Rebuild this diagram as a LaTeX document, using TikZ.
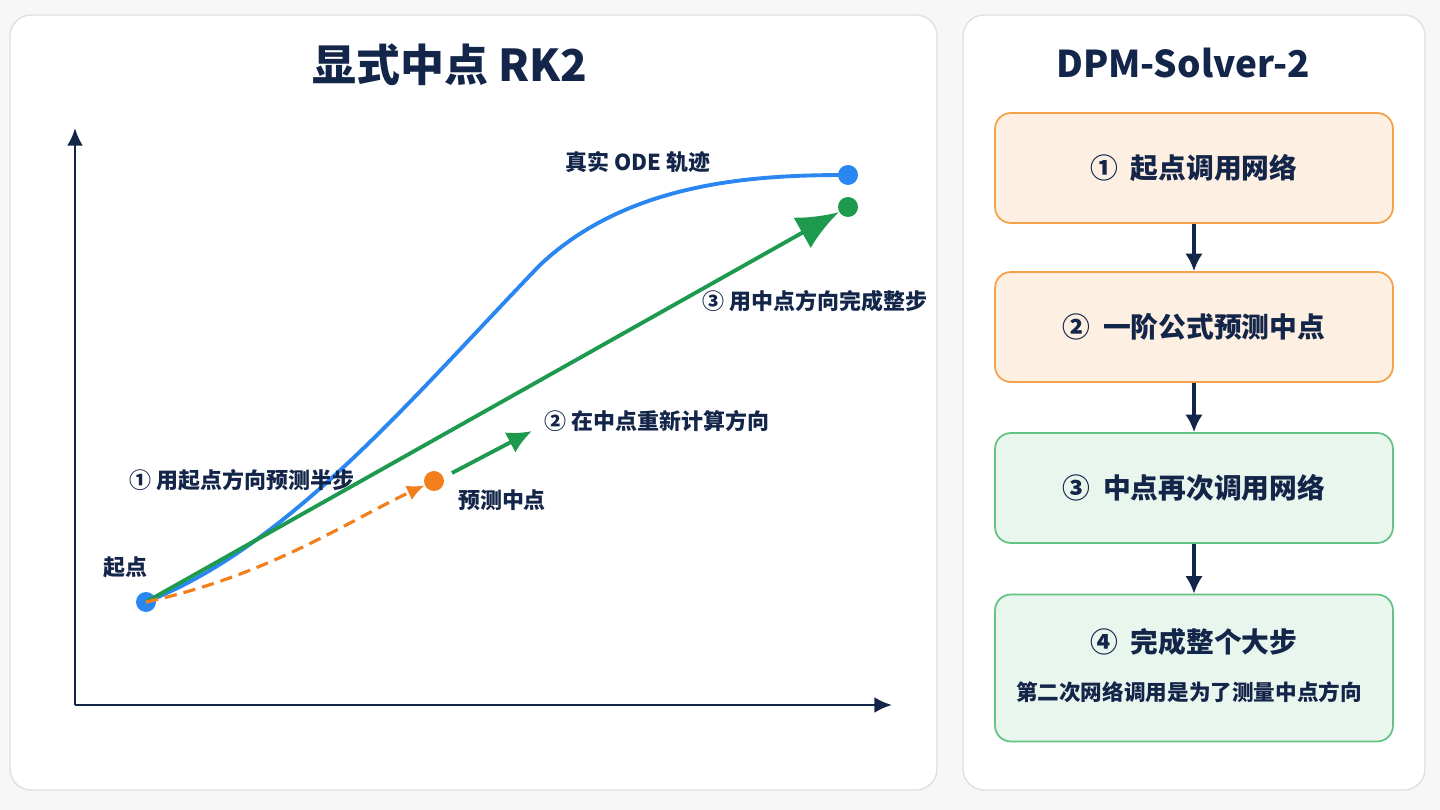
\documentclass[tikz,border=0pt]{standalone}
\usepackage{fontspec}
\setmainfont{Noto Sans CJK SC}
\usetikzlibrary{arrows.meta,positioning}
\definecolor{navy}{HTML}{14254A}
\definecolor{cblue}{HTML}{2A86F0}
\definecolor{cgreen}{HTML}{1E9A4E}
\definecolor{corange}{HTML}{F27F1B}
\definecolor{obox}{HTML}{FDF0E2}
\definecolor{oline}{HTML}{F5A04A}
\definecolor{gbox}{HTML}{E9F6ED}
\definecolor{gline}{HTML}{67C285}
\begin{document}
\begin{tikzpicture}[x=0.02cm,y=-0.02cm,
    panel/.style={draw=black!12,fill=white,rounded corners=12pt,line width=0.8pt},
    lab/.style={text=navy,font=\bfseries\fontsize{12.5}{15}\selectfont},
    step/.style={draw=#1line,fill=#1box,rounded corners=9pt,line width=1pt,minimum width=7.96cm,minimum height=2.2cm,text=navy,font=\bfseries\fontsize{15.8}{19}\selectfont},
    dot/.style={circle,fill=#1,inner sep=0pt,minimum size=0.4cm},
    link/.style={-{Latex[length=10pt,width=10pt]},navy,line width=1.8pt}]
  \fill[black!3] (0,0) rectangle (1440,810);
  \draw[panel] (10,15) rectangle (937,790);
  \draw[panel] (963,15) rectangle (1425,790);
  \node[text=navy,font=\bfseries\fontsize{25}{30}\selectfont] (t1) at (450,65) {显式中点 RK2};
  \node[text=navy,font=\bfseries\fontsize{21}{25}\selectfont] (t2) at (1183,63) {DPM-Solver-2};
  % axes
  \coordinate (o) at (75,705);
  \coordinate (ytop) at (75,128);
  \coordinate (xend) at (892,705);
  \draw[navy,line width=1.5pt,-{Latex[length=10pt,width=9pt]}] (o) -- (ytop);
  \draw[navy,line width=1.5pt,-{Latex[length=10pt,width=9pt]}] (o) -- (xend);
  % points
  \node[dot=cblue] (s) at (146,602) {};
  \node[dot=cblue] (e) at (848,175) {};
  \node[dot=cgreen] (g) at (848,207) {};
  \node[dot=corange] (m) at (434,481) {};
  \coordinate (gs) at (452,473);
  \coordinate (ge) at (532,431);
  % curves
  \draw[cblue,line width=2.2pt] (s.center) .. controls (290,545) and (410,400) .. (540,265)
     .. controls (630,180) and (760,175) .. (e.center);
  \draw[cgreen,line width=2.2pt,-{Latex[length=24pt,width=20pt]}] (s.center) -- (g);
  \draw[corange,line width=1.8pt,dash pattern=on 7pt off 4pt,-{Latex[length=10pt,width=9pt]}] (s.center) .. controls (270,575) and (350,520) .. (m);
  \draw[cgreen,line width=2.2pt,-{Latex[length=14pt,width=13pt]}] (gs) -- (ge);
  % labels
  \node[lab] (l0) at (125,567) {起点};
  \node[lab] (l1) at (242,480) {① 用起点方向预测半步};
  \node[lab] (l2) at (502,500) {预测中点};
  \node[lab] (l3) at (657,421) {② 在中点重新计算方向};
  \node[lab] (l4) at (815,301) {③ 用中点方向完成整步};
  \node[lab] (l5) at (638,162) {真实 ODE 轨迹};
  % steps
  \node[step=o] (b1) at (1194,168) {① \ 起点调用网络};
  \node[step=o] (b2) at (1194,327) {② \ 一阶公式预测中点};
  \node[step=g] (b3) at (1194,488) {③ \ 中点再次调用网络};
  \node[step=g,minimum height=2.94cm,text depth=1.1cm] (b4) at (1194,668) {④ \ 完成整个大步};
  \node[text=navy,font=\bfseries\fontsize{12.3}{15}\selectfont] (b4n) at (1189,692) {第二次网络调用是为了测量中点方向};
  \draw[link] (b1) -- (b2);
  \draw[link] (b2) -- (b3);
  \draw[link] (b3) -- (b4);
\end{tikzpicture}
\end{document}
